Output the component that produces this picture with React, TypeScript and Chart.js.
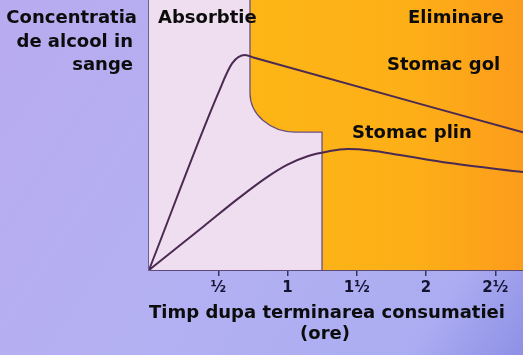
import React, { useEffect, useRef } from 'react';
import { Chart, registerables } from 'chart.js';

Chart.register(...registerables);

// ---- data (hours after drinking, blood alcohol concentration in % of axis height) ----
const TIME_TICKS = [0.5, 1, 1.5, 2, 2.5];
const TIME_TICK_LABELS = ['½', '1', '1½', '2', '2½'];
const X_MAX = 2.7;
const Y_MAX = 100;

const EMPTY_T = [0, 0.5, 0.6, 0.693, 0.76, 2.7];
const EMPTY_C = [0, 65.5, 76.5, 79.6, 78.6, 51];

const FULL_T = [0, 0.4, 0.65, 0.85, 1.0, 1.15, 1.3, 1.43, 1.6, 1.81, 2.17, 2.7];
const FULL_C = [0, 16.4, 26.7, 34.3, 39.0, 42.2, 44.0, 44.8, 44.3, 42.6, 39.6, 36.3];

// region boundary between absorption and elimination (data coords)
const ELIM_START_T = 0.729;
const ELIM_CURVE_TOP_C = 65.6;
const ELIM_CURVE_END_T = 1.054;
const ELIM_STEP_C = 51.1;
const ABSORB_END_T = 1.249;

const Y_TITLE = ['Concentratia', 'de alcool in', 'sange'];
const X_TITLE = ['Timp dupa terminarea consumatiei', '(ore)'];
const REGION_LABELS = ['Absorbtie', 'Eliminare'];
const SERIES_LABELS = ['Stomac gol', 'Stomac plin'];

const FONT = 'bold 18px "DejaVu Sans", sans-serif';

const toPoints = (t: number[], c: number[]) => t.map((v, i) => ({ x: v, y: c[i] }));

const decorPlugin = {
  id: 'decor',
  beforeDraw(chart: any) {
    const { ctx, width, height } = chart;
    ctx.save();
    const g = ctx.createLinearGradient(0, 0, width, height);
    g.addColorStop(0, '#b9abef');
    g.addColorStop(0.5, '#b3b1f3');
    g.addColorStop(0.85, '#abacf1');
    g.addColorStop(1, '#8e90e6');
    ctx.fillStyle = g;
    ctx.fillRect(0, 0, width, height);
    ctx.restore();
  },
  beforeDatasetsDraw(chart: any) {
    const { ctx, chartArea, scales } = chart;
    const xs = scales.x, ys = scales.y;
    const { left, right, top, bottom } = chartArea;
    ctx.save();
    ctx.fillStyle = '#efdef0';
    ctx.fillRect(left, top, right - left, bottom - top);

    const x0 = xs.getPixelForValue(ELIM_START_T);
    const y0 = ys.getPixelForValue(ELIM_CURVE_TOP_C);
    const x1 = xs.getPixelForValue(ELIM_CURVE_END_T);
    const y1 = ys.getPixelForValue(ELIM_STEP_C);
    const x2 = xs.getPixelForValue(ABSORB_END_T);
    const k = 0.55;
    const path = () => {
      ctx.beginPath();
      ctx.moveTo(x0, top);
      ctx.lineTo(x0, y0);
      ctx.bezierCurveTo(x0, y0 + (y1 - y0) * k, x1 - (x1 - x0) * k, y1, x1, y1);
      ctx.lineTo(x2, y1);
      ctx.lineTo(x2, bottom);
    };
    path();
    ctx.lineTo(right, bottom);
    ctx.lineTo(right, top);
    ctx.closePath();
    const og = ctx.createLinearGradient(x0, 0, right, 0);
    og.addColorStop(0, '#fdb616');
    og.addColorStop(0.6, '#fdaf17');
    og.addColorStop(1, '#fd9c1c');
    ctx.fillStyle = og;
    ctx.fill();

    path();
    ctx.strokeStyle = '#6a5080';
    ctx.lineWidth = 1.3;
    ctx.stroke();
    ctx.restore();
  },
  afterDraw(chart: any) {
    const { ctx, chartArea } = chart;
    const { left, bottom } = chartArea;
    ctx.save();
    ctx.font = FONT;
    ctx.fillStyle = '#0c0c0c';
    ctx.textBaseline = 'alphabetic';
    ctx.textAlign = 'right';
    ctx.fillText(Y_TITLE[0], left - 12, 23);
    ctx.fillText(Y_TITLE[1], left - 16, 47);
    ctx.fillText(Y_TITLE[2], left - 16, 70);
    ctx.textAlign = 'left';
    ctx.fillText(REGION_LABELS[0], left + 9, 23);
    ctx.fillText(REGION_LABELS[1], 408, 23);
    ctx.fillText(SERIES_LABELS[0], 387, 70);
    ctx.fillText(SERIES_LABELS[1], 352, 138);
    ctx.textAlign = 'center';
    ctx.fillText(X_TITLE[0], 327, bottom + 48);
    ctx.fillText(X_TITLE[1], 325, bottom + 69);
    ctx.restore();
  },
};

export default function App() {
  const ref = useRef<HTMLCanvasElement | null>(null);
  useEffect(() => {
    if (!ref.current) return;
    const chart = new Chart(ref.current, {
      type: 'line',
      data: {
        datasets: [
          {
            label: SERIES_LABELS[0],
            data: toPoints(EMPTY_T, EMPTY_C),
            borderColor: '#4a2a52',
            borderWidth: 2,
            pointRadius: 0,
            cubicInterpolationMode: 'monotone',
            fill: false,
          },
          {
            label: SERIES_LABELS[1],
            data: toPoints(FULL_T, FULL_C),
            borderColor: '#4a2a52',
            borderWidth: 2,
            pointRadius: 0,
            cubicInterpolationMode: 'monotone',
            fill: false,
          },
        ],
      },
      plugins: [decorPlugin],
      options: {
        responsive: false,
        animation: false,
        devicePixelRatio: 1,
        layout: { padding: { left: 149, right: 0, top: 0, bottom: 0 } },
        plugins: { legend: { display: false }, tooltip: { enabled: false } },
        scales: {
          x: {
            type: 'linear',
            min: 0,
            max: X_MAX,
            afterBuildTicks: (s: any) => {
              s.ticks = TIME_TICKS.map((v) => ({ value: v }));
            },
            afterFit: (s: any) => {
              s.height = 85;
            },
            ticks: {
              autoSkip: false,
              maxRotation: 0,
              padding: 3,
              color: '#141430',
              font: { family: '"DejaVu Sans", sans-serif', weight: 'bold', size: 15 },
              callback: (v: any) => {
                const i = TIME_TICKS.indexOf(Number(v));
                return i >= 0 ? TIME_TICK_LABELS[i] : '';
              },
            },
            grid: {
              display: true,
              drawOnChartArea: false,
              drawTicks: true,
              tickLength: 6,
              color: '#3c3458',
              lineWidth: 1.5,
            },
            border: { display: true, color: '#5a4a78', width: 2 },
          },
          y: {
            type: 'linear',
            min: 0,
            max: Y_MAX,
            ticks: { display: false },
            grid: { display: false },
            border: { display: true, color: '#6c6090', width: 2 },
            afterFit: (s: any) => {
              s.width = 0;
            },
          },
        },
      },
    } as any);
    return () => chart.destroy();
  }, []);
  return (
    <div style={{ position: 'fixed', left: 0, top: 0, width: 523, height: 355 }}>
      <canvas ref={ref} width={523} height={355} style={{ display: 'block', width: 523, height: 355 }} />
    </div>
  );
}
